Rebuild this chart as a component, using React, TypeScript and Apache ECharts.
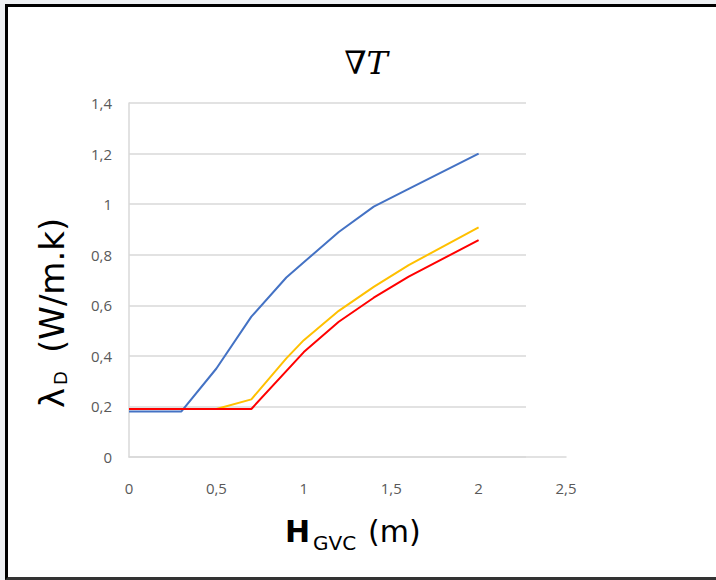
import React, { useEffect, useRef } from "react";
import * as echarts from "echarts";

// Blue series
const blueX = [0, 0.3, 0.5, 0.7, 0.9, 1.0, 1.2, 1.4, 1.6, 2.0];
const blueY = [0.18, 0.18, 0.35, 0.555, 0.71, 0.77, 0.89, 0.99, 1.06, 1.2];
// Yellow series
const yellowX = [0, 0.5, 0.7, 0.9, 1.0, 1.2, 1.4, 1.6, 2.0];
const yellowY = [0.19, 0.19, 0.228, 0.39, 0.462, 0.578, 0.673, 0.759, 0.908];
// Red series
const redX = [0, 0.5, 0.7, 1.0, 1.2, 1.4, 1.6, 2.0];
const redY = [0.19, 0.19, 0.19, 0.415, 0.535, 0.63, 0.713, 0.858];

const xMin = 0;
const xMax = 2.5;
const xStep = 0.5;
const yMin = 0;
const yMax = 1.4;
const yStep = 0.2;

const titleText = "∇T";
const yTitleMain = "λ";
const yTitleSub = "D";
const yTitleUnit = "(W/m.k)";
const xTitleMain = "H";
const xTitleSub = "GVC";
const xTitleUnit = "(m)";

const pair = (xs: number[], ys: number[]) => xs.map((x, i) => [x, ys[i]]);

export default function App() {
  const ref = useRef<HTMLDivElement>(null);

  useEffect(() => {
    if (!ref.current) return;
    const chart = echarts.init(ref.current, null, { renderer: "svg" });
    const fmt = (v: number) => String(Math.round(v * 10) / 10).replace(".", ",");
    const gridColor = "#d9d9d9";
    const labelStyle = {
      color: "#595959",
      fontSize: 15,
      fontFamily: "Open Sans",
      formatter: fmt,
    };
    const txt = (
      x: number,
      y: number,
      text: string,
      size: number,
      opts: any = {}
    ) => ({
      type: "text",
      x,
      y,
      rotation: opts.rotation || 0,
      style: {
        text,
        fontSize: size,
        fontFamily: opts.family || "DejaVu Sans",
        fontWeight: opts.weight || "normal",
        fontStyle: opts.style || "normal",
        fill: "#000000",
        align: opts.align || "left",
        textAlign: opts.align || "left",
        verticalAlign: "middle",
        textVerticalAlign: "middle",
      },
    });

    chart.setOption({
      animation: false,
      backgroundColor: "transparent",
      grid: [
        { left: 129, top: 103, width: 437, height: 354 },
        { left: 129, top: 103, width: 397, height: 354 },
      ],
      xAxis: [
        {
          type: "value",
          gridIndex: 0,
          min: xMin,
          max: xMax,
          interval: xStep,
          axisLine: { show: true, lineStyle: { color: gridColor, width: 1.5 } },
          axisTick: { show: false },
          splitLine: { show: false },
          axisLabel: { ...labelStyle, margin: 23 },
        },
        { type: "value", gridIndex: 1, min: 0, max: 1, show: false },
      ],
      yAxis: [
        {
          type: "value",
          gridIndex: 0,
          min: yMin,
          max: yMax,
          interval: yStep,
          axisLine: { show: true, lineStyle: { color: gridColor, width: 1.5 } },
          axisTick: { show: false },
          splitLine: { show: false },
          axisLabel: { ...labelStyle, margin: 17 },
        },
        {
          type: "value",
          gridIndex: 1,
          min: yMin,
          max: yMax,
          interval: yStep,
          axisLine: { show: false },
          axisTick: { show: false },
          axisLabel: { show: false },
          splitLine: { show: true, lineStyle: { color: gridColor, width: 1.5 } },
        },
      ],
      series: [
        {
          type: "line",
          xAxisIndex: 0,
          yAxisIndex: 0,
          data: pair(blueX, blueY),
          symbol: "none",
          lineStyle: { color: "#4472C4", width: 2 },
          itemStyle: { color: "#4472C4" },
        },
        {
          type: "line",
          xAxisIndex: 0,
          yAxisIndex: 0,
          data: pair(yellowX, yellowY),
          symbol: "none",
          lineStyle: { color: "#FFC000", width: 2 },
          itemStyle: { color: "#FFC000" },
        },
        {
          type: "line",
          xAxisIndex: 0,
          yAxisIndex: 0,
          data: pair(redX, redY),
          symbol: "none",
          lineStyle: { color: "#FF0000", width: 2 },
          itemStyle: { color: "#FF0000" },
        },
      ],
      graphic: [
        txt(366, 63, titleText, 32, { family: "DejaVu Serif", style: "italic", align: "center" }),
        txt(52, 408, yTitleMain, 34, { rotation: Math.PI / 2 }),
        txt(60, 385, yTitleSub, 18, { rotation: Math.PI / 2 }),
        txt(52, 353, yTitleUnit, 34, { rotation: Math.PI / 2 }),
        txt(285, 531, xTitleMain, 30, { weight: "bold" }),
        txt(313, 543, xTitleSub, 20),
        txt(368, 531, xTitleUnit, 30),
      ],
    });
    return () => chart.dispose();
  }, []);

  return (
    <div
      style={{
        position: "fixed",
        left: 0,
        top: 0,
        width: 716,
        height: 580,
        overflow: "hidden",
        background: "#eef0f3",
      }}
    >
      <div
        style={{
          position: "absolute",
          left: 5,
          top: 4,
          width: 760,
          height: 576,
          boxSizing: "border-box",
          borderTop: "3px solid #000",
          borderLeft: "3px solid #000",
          borderBottom: "3px solid #333",
          background: "#ffffff",
        }}
      />
      <div
        ref={ref}
        style={{ position: "absolute", left: 0, top: 0, width: 716, height: 580 }}
      />
    </div>
  );
}
